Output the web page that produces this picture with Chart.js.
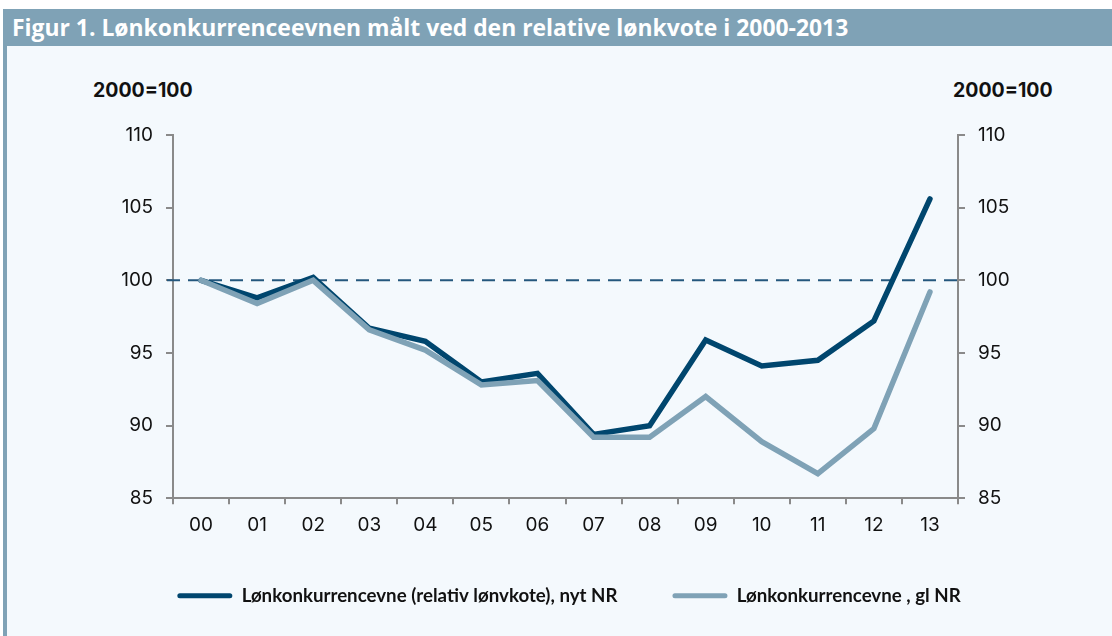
<!DOCTYPE html>
<html><head><meta charset="utf-8">
<script src="https://cdn.jsdelivr.net/npm/chart.js@4.4.1/dist/chart.umd.min.js"></script>
<style>
html,body{margin:0;padding:0;background:#fff;width:1112px;height:636px;overflow:hidden;}
#bar{position:absolute;left:3px;top:9px;width:1109px;height:37px;background:#7fa2b6;}
#title{position:absolute;left:12px;top:9px;height:37px;line-height:37px;color:#fff;font-family:"Open Sans";font-weight:bold;font-size:22.9px;white-space:nowrap;}
#strip{position:absolute;left:3px;top:46px;width:4px;height:590px;background:#7fa2b6;}
#panel{position:absolute;left:7px;top:46px;width:1105px;height:590px;background:#f4f9fd;}
#wrap{position:absolute;left:0;top:46px;width:1112px;height:590px;}
.unit{position:absolute;top:79px;font-family:Inter;font-weight:bold;font-size:19.5px;color:#111;line-height:22px;white-space:nowrap;}
</style></head>
<body>
<div id="bar"></div>
<div id="title">Figur 1. Lønkonkurrenceevnen målt ved den relative lønkvote i 2000-2013</div>
<div id="strip"></div>
<div id="panel"></div>
<div class="unit" style="left:93px;">2000=100</div>
<div class="unit" style="left:953px;">2000=100</div>
<div id="wrap"><canvas id="c" width="1112" height="590"></canvas></div>
<script>
const categories = ["00","01","02","03","04","05","06","07","08","09","10","11","12","13"];
const nytNR = [100.0, 98.8, 100.2, 96.7, 95.8, 93.0, 93.6, 89.4, 90.0, 95.9, 94.1, 94.5, 97.2, 105.6];
const glNR  = [100.0, 98.4, 100.0, 96.6, 95.2, 92.8, 93.1, 89.2, 89.2, 92.0, 88.9, 86.7, 89.8, 99.2];
const seriesNames = ["Lønkonkurrencevne (relativ lønvkote), nyt NR", "Lønkonkurrencevne , gl NR"];
const refValue = 100;
const yMin = 85, yMax = 110, yStep = 5;

const darkBlue = "#00466e";
const lightBlue = "#7fa2b6";
const axisGrey = "#8a8a8a";

const refLine = {
  id: "refLine",
  beforeDatasetsDraw(chart) {
    const y = chart.scales.y.getPixelForValue(refValue);
    const a = chart.chartArea;
    const ctx = chart.ctx;
    ctx.save();
    ctx.strokeStyle = "#24577d";
    ctx.lineWidth = 2;
    ctx.setLineDash([13, 8]);
    ctx.beginPath();
    ctx.moveTo(a.left - 6, y);
    ctx.lineTo(a.right, y);
    ctx.stroke();
    ctx.restore();
  }
};

const tickFont = {family: "Inter", size: 19};

new Chart(document.getElementById("c"), {
  type: "line",
  data: {
    labels: categories,
    datasets: [
      {label: seriesNames[0], data: nytNR, borderColor: darkBlue, backgroundColor: darkBlue,
       borderWidth: 5.5, pointRadius: 0, tension: 0, borderCapStyle: "round", order: 1, yAxisID: "y"},
      {label: seriesNames[1], data: glNR, borderColor: lightBlue, backgroundColor: lightBlue,
       borderWidth: 5.5, pointRadius: 0, tension: 0, borderCapStyle: "round", order: 0, yAxisID: "y"}
    ]
  },
  options: {
    responsive: false,
    animation: false,
    devicePixelRatio: 1,
    layout: {padding: {top: 89, left: 26, right: 0, bottom: 21}},
    plugins: {
      tooltip: {enabled: false},
      legend: {
        position: "bottom",
        labels: {
          font: {family: "Lato", weight: "bold", size: 18.7},
          color: "#111",
          boxWidth: 55,
          boxHeight: 5,
          padding: 55,
          useBorderRadius: true,
          borderRadius: 2.5,
          sort: (a, b) => a.datasetIndex - b.datasetIndex,
          generateLabels(chart) {
            return chart.data.datasets.map((ds, i) => ({
              text: ds.label, fillStyle: ds.borderColor, strokeStyle: ds.borderColor,
              lineWidth: 0, hidden: false, datasetIndex: i, fontColor: "#111", borderRadius: 2.5
            }));
          }
        }
      }
    },
    scales: {
      x: {
        type: "category",
        offset: true,
        grid: {offset: true, drawOnChartArea: false, drawTicks: true, tickLength: 6, color: axisGrey, lineWidth: 2},
        border: {color: axisGrey, width: 2},
        ticks: {font: tickFont, color: "#111", padding: 10, maxRotation: 0},
        afterFit(s) { s.height = 33; }
      },
      y: {
        position: "left",
        min: yMin, max: yMax,
        grid: {drawOnChartArea: false, tickLength: 7, color: axisGrey, lineWidth: 2},
        border: {color: axisGrey, width: 2},
        ticks: {stepSize: yStep, font: tickFont, color: "#111", padding: 13},
        afterFit(s) { s.width = 147; }
      },
      y2: {
        position: "right",
        min: yMin, max: yMax,
        grid: {drawOnChartArea: false, tickLength: 7, color: axisGrey, lineWidth: 2},
        border: {color: axisGrey, width: 2},
        ticks: {stepSize: yStep, font: tickFont, color: "#111", padding: 13},
        afterFit(s) { s.width = 154; }
      }
    }
  },
  plugins: [refLine]
});
</script>
</body></html>
